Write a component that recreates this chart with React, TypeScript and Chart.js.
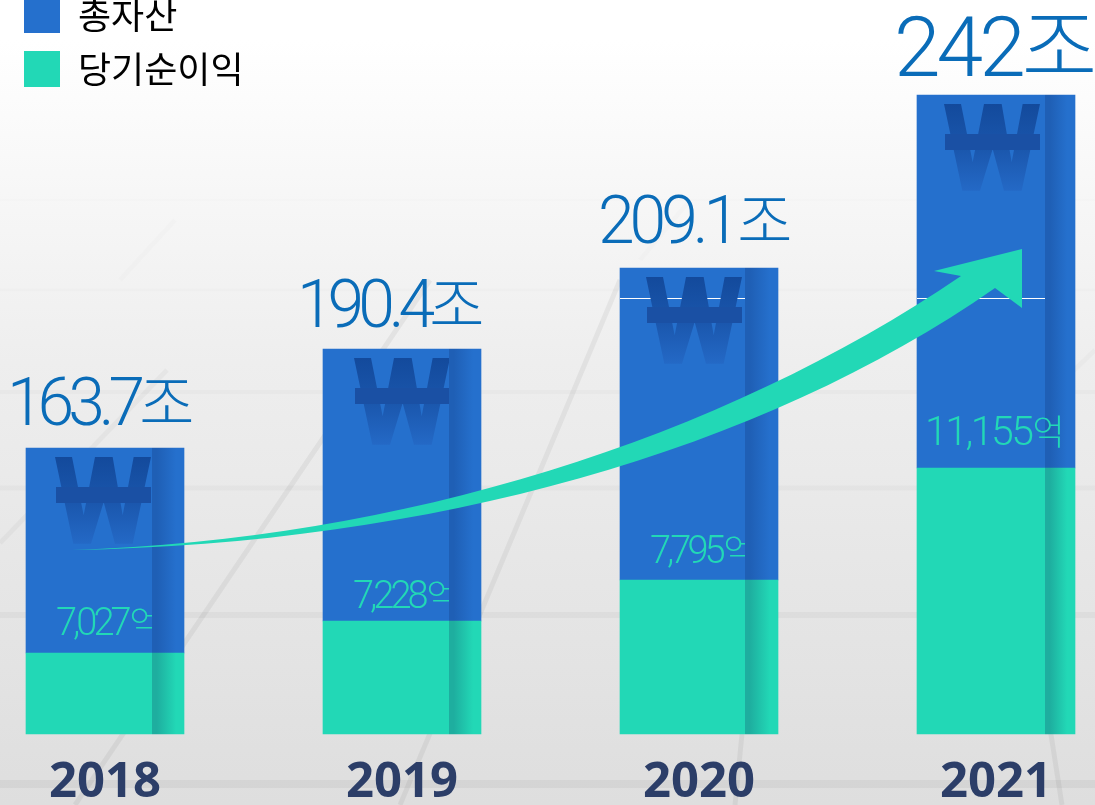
import React, { useEffect, useRef } from "react";
import { Chart, registerables } from "chart.js";

Chart.register(...registerables);

const years = ["2018", "2019", "2020", "2021"];
// Stack heights as drawn in the picture (the bars are not to scale with the printed values)
const netIncomeHeights = [81, 113, 154, 266];
const assetHeights = [205, 272, 312, 373];
const assetLabels = ["163.7", "190.4", "209.1", "242"];
const incomeLabels = ["7,027", "7,228", "7,795", "11,155"];
const assetUnit = "조";
const incomeUnit = "억";

const BLUE = "#2570cd";
const BLUE_SIDE = "#1f5fb5";
const GREEN = "#22d8b6";
const GREEN_SIDE = "#1eae9f";
const BAR_W = 158;
const FRONT_W = [126, 126, 125, 128];
const FULL_H = 734;

function faceFill(front: string, side: string) {
  return (c: any) => {
    if (c.type !== "data" || !c.chart.chartArea) return front;
    const cx = c.chart.scales.x.getPixelForValue(c.dataIndex);
    const l = cx - BAR_W / 2;
    const g = c.chart.ctx.createLinearGradient(l, 0, l + BAR_W, 0);
    const f = FRONT_W[c.dataIndex] / BAR_W;
    g.addColorStop(0, front);
    g.addColorStop(f, front);
    g.addColorStop(f, side);
    g.addColorStop(f + 0.03, side);
    g.addColorStop(0.95, front);
    g.addColorStop(1, front);
    return g;
  };
}

const floorBands = [
  [200, 2, 0.008], [290, 3, 0.012], [392, 4, 0.018], [488, 5, 0.025], [615, 6, 0.03], [784, 8, 0.045],
];
const floorRays = [
  [167, 370, 0, 543, 0.03], [430, 280, 75, 805, 0.05], [620, 280, 400, 805, 0.05], [770, 450, 735, 805, 0.05],
  [1030, 600, 1062, 805, 0.05], [1095, 350, 960, 480, 0.02], [175, 220, 120, 280, 0.012], [690, 200, 640, 260, 0.012],
];

const deco = {
  id: "deco",
  beforeDraw(chart: any) {
    const { ctx, width, height } = chart;
    ctx.save();
    const bg = ctx.createLinearGradient(0, 0, 0, height);
    bg.addColorStop(0, "#ffffff");
    bg.addColorStop(0.05, "#ffffff");
    bg.addColorStop(0.45, "#eeeeee");
    bg.addColorStop(1, "#dedede");
    ctx.fillStyle = bg;
    ctx.fillRect(0, 0, width, height);
    for (const [y, w, a] of floorBands) {
      ctx.fillStyle = `rgba(0,0,0,${a})`;
      ctx.fillRect(0, y - w / 2, width, w);
    }
    ctx.lineWidth = 5;
    for (const [x0, y0, x1, y1, a] of floorRays) {
      ctx.strokeStyle = `rgba(0,0,0,${a})`;
      ctx.beginPath();
      ctx.moveTo(x0, y0);
      ctx.lineTo(x1, y1);
      ctx.stroke();
    }
    ctx.restore();
    const lg = chart.legend;
    if (lg) {
      lg.left = 6;
      lg.top = -21;
      lg.right = lg.left + lg.width + 50;
      lg.bottom = lg.top + lg.height + 20;
    }
  },
  afterDatasetsDraw(chart: any) {
    const { ctx, scales } = chart;
    const x = scales.x;
    const y = scales.y;
    const totals = assetHeights.map((h, i) => h + netIncomeHeights[i]);
    ctx.save();
    years.forEach((_, i) => {
      const l = x.getPixelForValue(i) - BAR_W / 2;
      const top = y.getPixelForValue(totals[i]);
      const incomeTop = y.getPixelForValue(netIncomeHeights[i]);
      const front = FRONT_W[i];

      // hairline seam of the tall bars
      if (i >= 2) {
        ctx.fillStyle = "#ffffff";
        ctx.fillRect(Math.round(l), 298, front, 1);
      }

      // won sign
      ctx.save();
      ctx.beginPath();
      ctx.rect(l, top, front, 400);
      ctx.clip();
      const gx = l + [29, 31, 26, 27][i];
      const gy = top + 9;
      const s = 1 / 3;
      const g = ctx.createLinearGradient(0, gy, 0, gy + 87);
      g.addColorStop(0, "#134a9c");
      g.addColorStop(0.5, "#1a56ac");
      g.addColorStop(1, "#2469c6");
      ctx.fillStyle = g;
      const w = [[0,0],[51,0],[86,175],[120,0],[173,0],[203,175],[236,0],[288,0],[233,260],[180,260],[146,135],[108,260],[55,260]];
      ctx.beginPath();
      w.forEach(([a, b], k) => (k ? ctx.lineTo(gx + a * s, gy + b * s) : ctx.moveTo(gx + a * s, gy + b * s)));
      ctx.closePath();
      ctx.fill();
      ctx.fillStyle = "#1a50a4";
      ctx.fillRect(gx + 1, gy + 30, 95, 16);
      ctx.restore();

      // net income label
      ctx.save();
      const small = i < 3;
      if (small) {
        ctx.beginPath();
        ctx.rect(l, top, front, 800);
        ctx.clip();
      }
      ctx.fillStyle = GREEN;
      ctx.textAlign = "left";
      ctx.textBaseline = "alphabetic";
      const incomeY = incomeTop - [18, 13, 17, 23][i];
      const incomeX = l + (small ? 30 : 8);
      ctx.font = `300 ${small ? 38 : 41}px Roboto, "Noto Sans CJK KR"`;
      (ctx as any).letterSpacing = small ? "-4px" : "-2.5px";
      ctx.fillText(incomeLabels[i], incomeX, incomeY);
      const iw = ctx.measureText(incomeLabels[i]).width;
      ctx.font = `300 ${small ? 34 : 35}px "Noto Sans CJK KR"`;
      (ctx as any).letterSpacing = "0px";
      ctx.fillText(incomeUnit, incomeX + iw + (small ? 2 : 1), incomeY);
      ctx.restore();

      // total label
      const big = i === 3;
      ctx.fillStyle = "#0a6cb8";
      ctx.textAlign = "left";
      const labelX = l + [-19, -26, -22, -23][i];
      const labelY = top + [-23, -22, -25, -19][i];
      ctx.font = `300 ${big ? 84 : 66}px Roboto, "Noto Sans CJK KR"`;
      (ctx as any).letterSpacing = ["-6px", "-6px", "-5px", "-4px"][i];
      ctx.fillText(assetLabels[i], labelX, labelY);
      const aw = ctx.measureText(assetLabels[i]).width;
      ctx.font = `300 ${big ? 82 : 60}px "Noto Sans CJK KR"`;
      (ctx as any).letterSpacing = "0px";
      ctx.fillText(assetUnit, labelX + aw + [0, 0, 2, 0][i], labelY);
    });

    // growth arrow
    ctx.fillStyle = GREEN;
    ctx.beginPath();
    ctx.moveTo(72, 550);
    ctx.bezierCurveTo(400, 540, 720, 440, 961, 276);
    ctx.lineTo(934, 271);
    ctx.lineTo(1022, 249);
    ctx.lineTo(1022, 308);
    ctx.lineTo(995, 288);
    ctx.bezierCurveTo(760, 452, 430, 544, 72, 550);
    ctx.closePath();
    ctx.fill();
    ctx.restore();
  },
};

export default function App() {
  const ref = useRef<HTMLCanvasElement | null>(null);
  useEffect(() => {
    const chart = new Chart(ref.current as HTMLCanvasElement, {
      type: "bar",
      data: {
        labels: years,
        datasets: [
          { label: "당기순이익", data: netIncomeHeights, backgroundColor: faceFill(GREEN, GREEN_SIDE) as any, barThickness: BAR_W, clip: false as any, borderWidth: 0 },
          { label: "총자산", data: assetHeights, backgroundColor: faceFill(BLUE, BLUE_SIDE) as any, barThickness: BAR_W, clip: false as any, borderWidth: 0 },
        ],
      },
      options: {
        responsive: false,
        animation: false,
        layout: { padding: { left: 105, right: 99, top: 0, bottom: 0 } },
        plugins: {
          tooltip: { enabled: false },
          legend: {
            position: "chartArea" as any,
            align: "start",
            labels: {
              boxWidth: 36,
              boxHeight: 36,
              padding: 18,
              color: "#34476f",
              font: { family: '"Noto Sans CJK KR"', size: 36, weight: "400" as any },
              generateLabels: () => [
                { text: "총자산", fillStyle: BLUE, strokeStyle: BLUE, lineWidth: 0, hidden: false },
                { text: "당기순이익", fillStyle: GREEN, strokeStyle: GREEN, lineWidth: 0, hidden: false },
              ],
            },
          },
        },
        scales: {
          x: {
            stacked: true,
            offset: false,
            grid: { display: false },
            border: { display: false },
            afterFit: (s: any) => { s.height = 71; },
            ticks: {
              autoSkip: false,
              maxRotation: 0,
              padding: 12,
              color: "#2c3e68",
              font: { family: '"Noto Sans"', size: 49, weight: "bold" },
            },
          },
          y: { stacked: true, display: false, min: 0, max: FULL_H },
        },
      },
      plugins: [deco],
    } as any);
    return () => chart.destroy();
  }, []);
  return (
    <div style={{ position: "fixed", left: 0, top: 0, width: 1095, height: 805, overflow: "hidden" }}>
      <canvas ref={ref} width={1095} height={805} style={{ display: "block" }} />
    </div>
  );
}
